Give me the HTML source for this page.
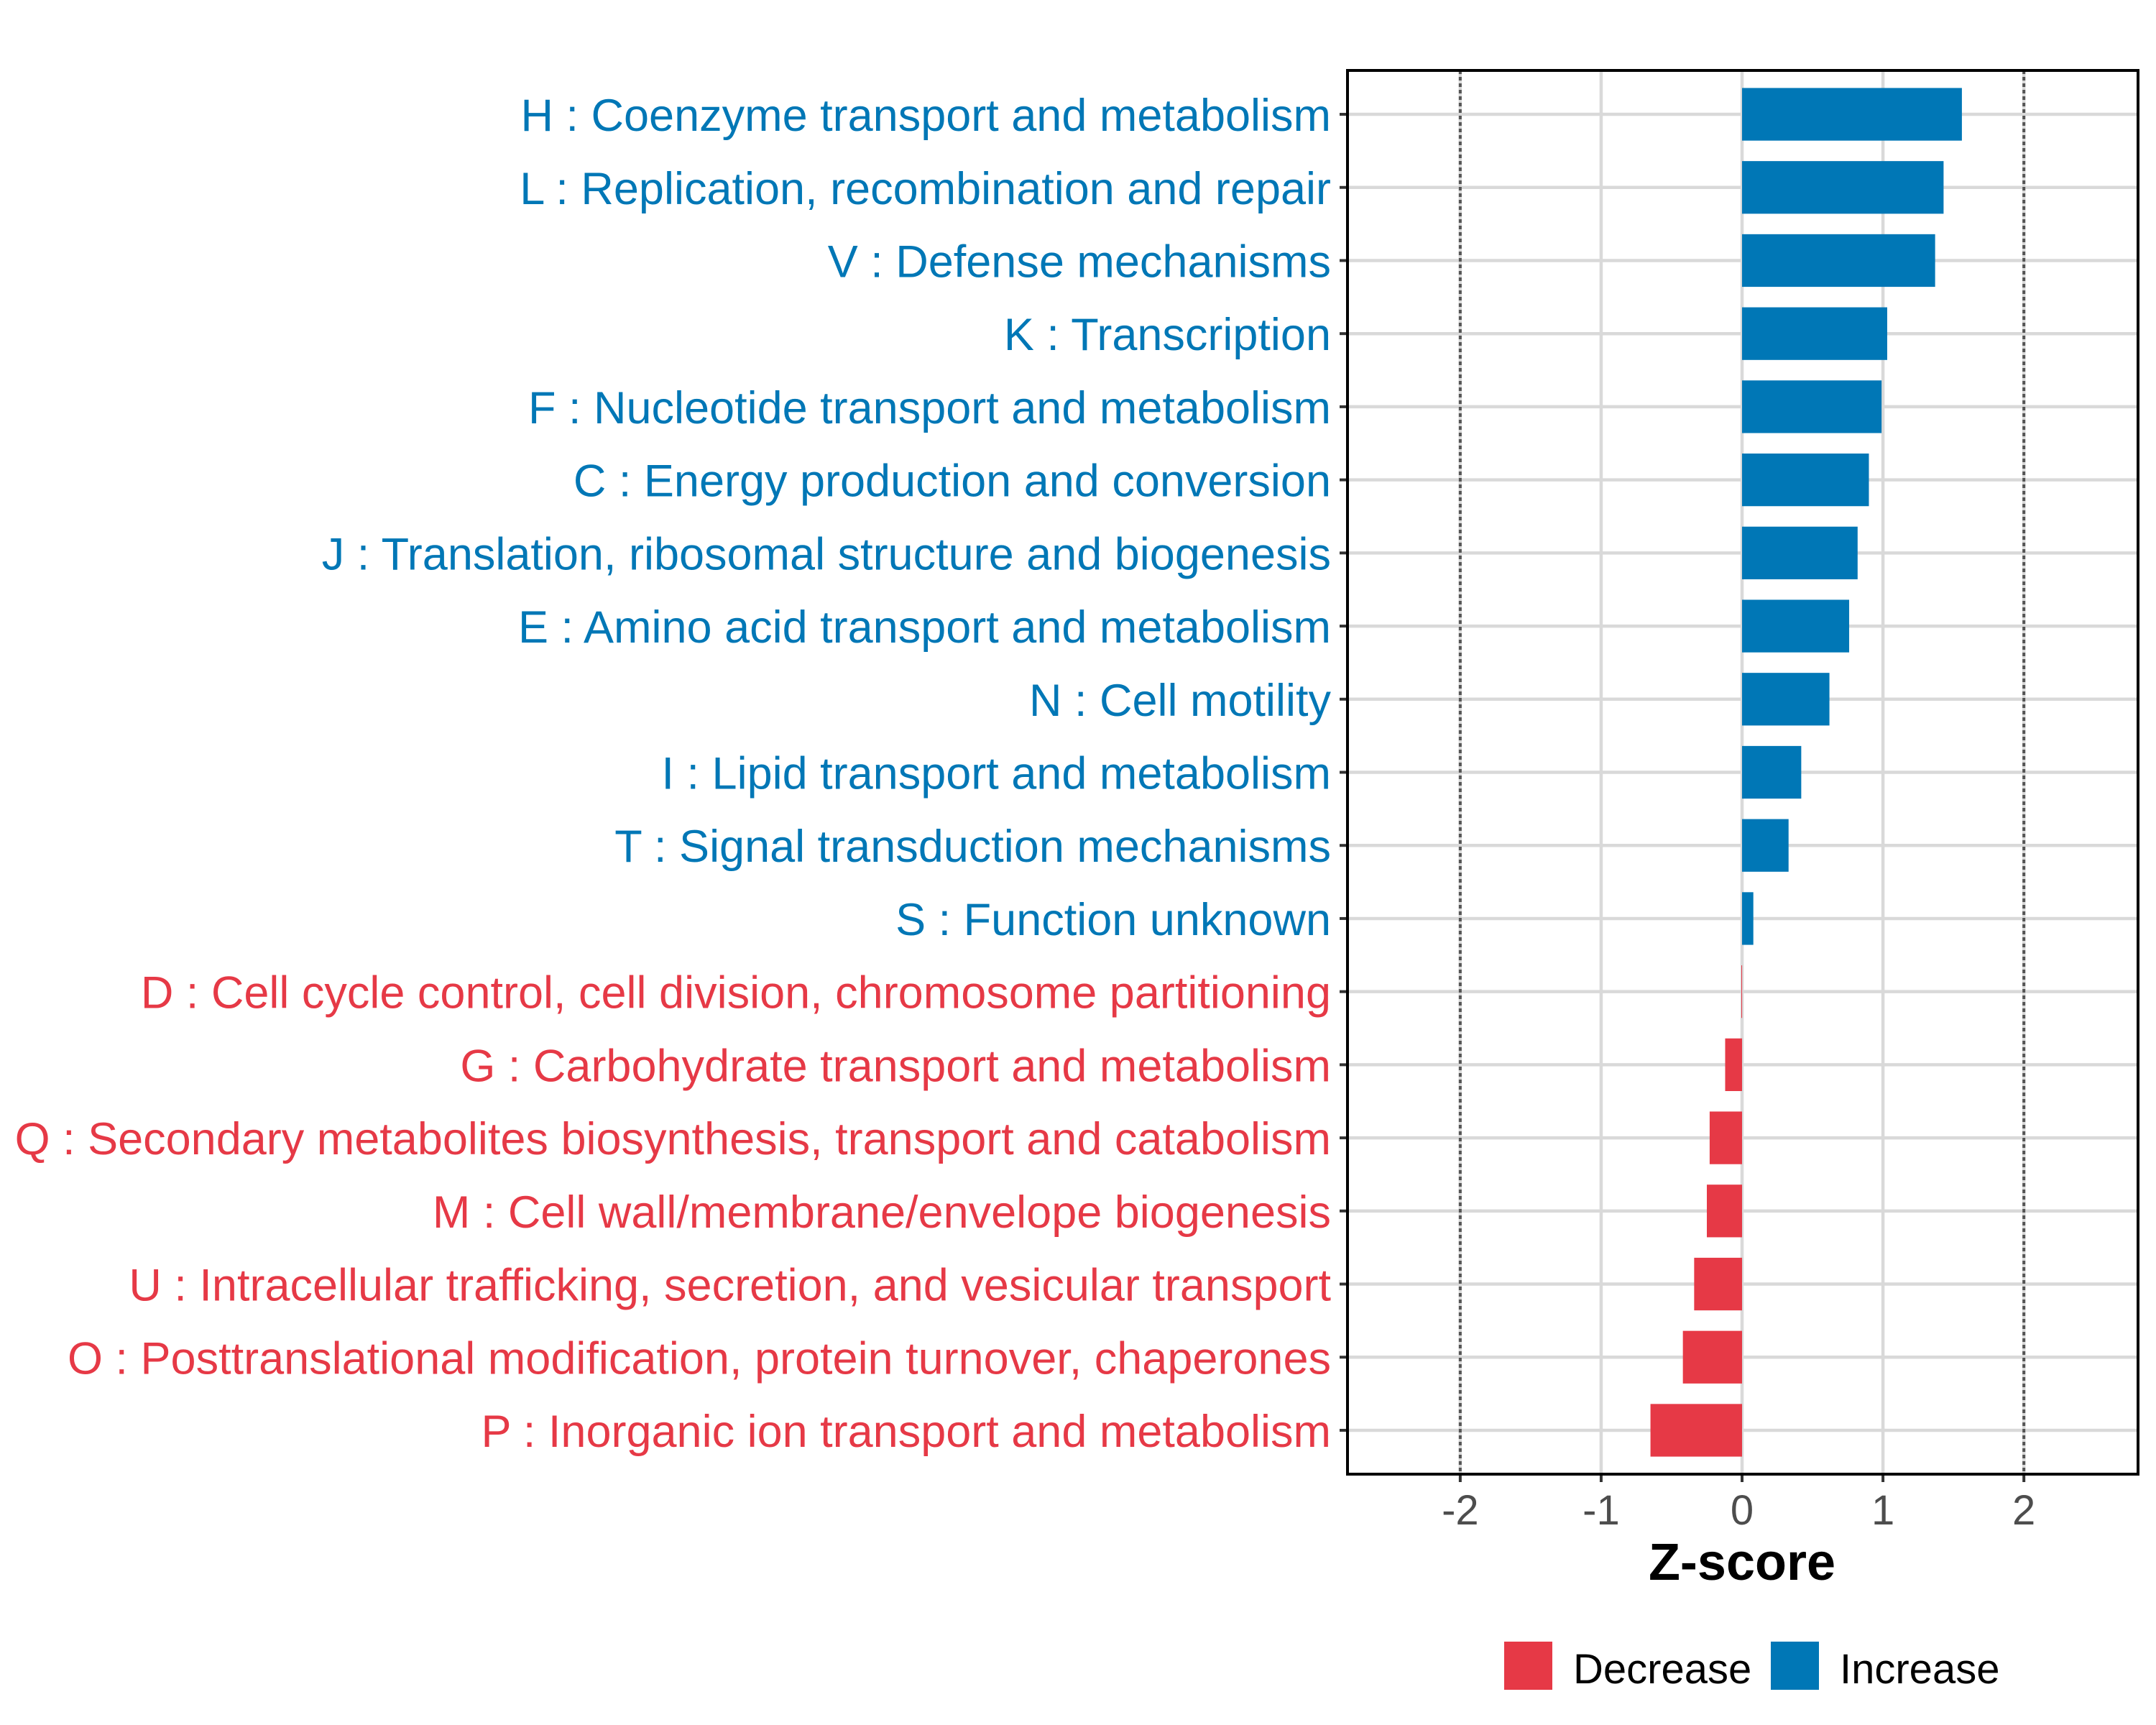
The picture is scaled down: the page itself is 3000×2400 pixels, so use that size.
<!DOCTYPE html>
<html><head><meta charset="utf-8"><style>
html,body{margin:0;padding:0;background:#fff;}
svg{display:block;font-family:"Liberation Sans",Arial,sans-serif;}
</style></head><body>
<svg id="chart" width="3000" height="2400" viewBox="0 0 3000 2400" xmlns="http://www.w3.org/2000/svg">
<rect width="3000" height="2400" fill="#fff"/>
<g id="grid"></g>
<g id="bars"></g>
<g id="ylabels"></g>
<g id="xaxis"></g>
<rect x="1875" y="98" width="1100" height="1953" fill="none" stroke="#000" stroke-width="4"/>
<text x="2424" y="2198" text-anchor="middle" font-size="72" font-weight="bold" fill="#000">Z-score</text>
<g>
<rect x="2093" y="2284" width="67" height="67" fill="#E63946"/>
<text x="2189" y="2342" font-size="58" fill="#000">Decrease</text>
<rect x="2464" y="2284" width="67" height="67" fill="#0077B6"/>
<text x="2560" y="2342" font-size="58" fill="#000">Increase</text>
</g>
</svg>
<script>
const categories = [
"H : Coenzyme transport and metabolism",
"L : Replication, recombination and repair",
"V : Defense mechanisms",
"K : Transcription",
"F : Nucleotide transport and metabolism",
"C : Energy production and conversion",
"J : Translation, ribosomal structure and biogenesis",
"E : Amino acid transport and metabolism",
"N : Cell motility",
"I : Lipid transport and metabolism",
"T : Signal transduction mechanisms",
"S : Function unknown",
"D : Cell cycle control, cell division, chromosome partitioning",
"G : Carbohydrate transport and metabolism",
"Q : Secondary metabolites biosynthesis, transport and catabolism",
"M : Cell wall/membrane/envelope biogenesis",
"U : Intracellular trafficking, secretion, and vesicular transport",
"O : Posttranslational modification, protein turnover, chaperones",
"P : Inorganic ion transport and metabolism"
];
const zscores = [1.56,1.43,1.37,1.03,0.99,0.90,0.82,0.76,0.62,0.42,0.33,0.08,-0.005,-0.12,-0.23,-0.25,-0.34,-0.42,-0.65];
const xTicks = [-2,-1,0,1,2];
const xTickLabels = ["-2","-1","0","1","2"];
const thresholds = [-2,2];

const NS="http://www.w3.org/2000/svg";
const PL=1875, PR=2975, PT=98, PB=2051;
const XMIN=-2.8, XMAX=2.81;
function xs(v){return PL+(v-XMIN)/(XMAX-XMIN)*(PR-PL);}
const n=categories.length;
const band=(PB-PT)/(n-1+1.2);
function ys(i){return PT+band*0.6+i*band;}
function mk(tag,attrs,parent){const e=document.createElementNS(NS,tag);for(const k in attrs)e.setAttribute(k,attrs[k]);parent.appendChild(e);return e;}
const grid=document.getElementById('grid'),bars=document.getElementById('bars'),yl=document.getElementById('ylabels'),xa=document.getElementById('xaxis');
xTicks.forEach((t,i)=>{
  const l=mk('line',{x1:xs(t),x2:xs(t),y1:PT,y2:PB,stroke:'#d9d9d9','stroke-width':4.5},grid);
  
  
  const tk=mk('line',{x1:xs(t),x2:xs(t),y1:PB,y2:PB+11,stroke:'#333','stroke-width':4},xa);
  
  
  const tx=mk('text',{x:xs(t),y:2121,'text-anchor':'middle','font-size':58,fill:'#4d4d4d'},xa);
  tx.textContent=xTickLabels[i];
  
  
});
categories.forEach((c,i)=>{
  const y=ys(i);
  const g=mk('line',{x1:PL,x2:PR,y1:y,y2:y,stroke:'#d9d9d9','stroke-width':4.5},grid);
  
  
  const v=zscores[i], col=v>=0?'#0077B6':'#E63946';
  const x0=xs(0), x1=xs(v);
  const r=mk('rect',{x:Math.min(x0,x1),y:y-band*0.36,width:Math.max(Math.abs(x1-x0),1),height:band*0.72,fill:col},bars);
  
  
  const tk=mk('line',{x1:PL-11,x2:PL,y1:y,y2:y,stroke:'#333','stroke-width':4},yl);
  
  
  const t=mk('text',{x:1852,y:y+23,'text-anchor':'end','font-size':63,fill:col},yl);
  t.textContent=c;
  
  
});
thresholds.forEach(t=>{
  const l=mk('line',{x1:xs(t),x2:xs(t),y1:PT,y2:PB,stroke:'#555','stroke-width':4,'stroke-dasharray':'5,4'},grid);
  
  
});
</script>
</body></html>
